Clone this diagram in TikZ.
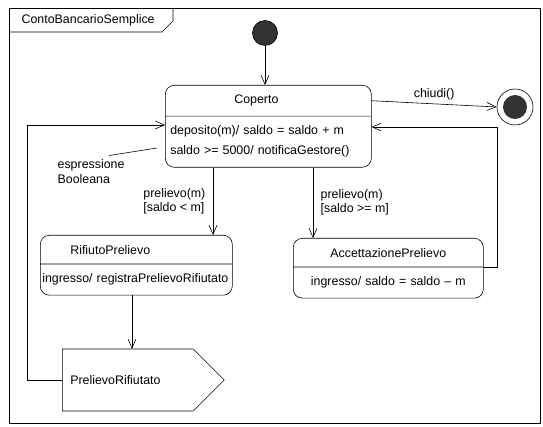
\documentclass[tikz,border=0pt]{standalone}
\usepackage{fontspec}
\setmainfont{Liberation Sans}
\usetikzlibrary{shapes.multipart,shapes.symbols,arrows.meta}

\definecolor{dotfill}{HTML}{333333}

\begin{document}
\begin{tikzpicture}[x=1pt, y=-1pt, line width=0.6pt,
    font=\fontsize{12.4}{14}\selectfont,
    state/.style={rectangle split, rectangle split parts=2, draw,
      rounded corners=9pt, align=left, inner xsep=5pt, inner ysep=9.5pt,
      font=\fontsize{12.4}{20}\selectfont},
    guard/.style={align=left, font=\fontsize{12.4}{14}\selectfont},
    >={Straight Barb[length=9pt,width=8pt]}]
    \useasboundingbox (0,0) rectangle (543,427);
    % frame
    \draw (9,8) rectangle (540,423);
    \draw (9,32) -- (162,32) -- (173,21) -- (173,8);
    \node[anchor=west] (title) at (18,20) {ContoBancarioSemplice};
    % states
    \node[circle, draw, fill=dotfill, minimum size=25pt, inner sep=0pt] (init) at (265,33) {};
    \node[state, text width=196pt, anchor=north west] (cop) at (165,85)
      {\hspace*{64pt}Coperto \nodepart{two} deposito(m)/ saldo = saldo + m\\ saldo >= 5000/ notificaGestore()};
    \node[state, text width=188pt, inner xsep=2pt, anchor=north west] (rif) at (40,235)
      {\hspace*{28pt}RifiutoPrelievo \nodepart{two}\mbox{ingresso/ registraPrelievoRifiutato}};
    \node[state, text width=180pt, align=center, anchor=north west] (acc) at (293,238)
      {AccettazionePrelievo \nodepart{two} ingresso/ saldo = saldo -- m};
    \node[signal, signal to=east, draw, text width=115pt, align=left, inner xsep=8pt,
      minimum height=62pt, anchor=west] (pr) at (62,380) {PrelievoRifiutato};
    \node[circle, draw, minimum size=36pt, inner sep=0pt] (fin) at (515,107) {};
    \node[circle, fill=dotfill, minimum size=24pt, inner sep=0pt] (finin) at (fin) {};
    % note
    \node[guard, anchor=north west, font=\fontsize{12.4}{15}\selectfont] (note) at (54,155.5) {espressione\\Booleana};
    \coordinate (notetip) at (157,148);
    \draw ([xshift=-19pt]note.north east) -- (notetip);
    % transitions
    \draw[->] (init.south) -- (init.south |- cop.north);
    \draw[->] (cop.text east) -- (fin.west) node[midway, above] {chiudi()};
    \draw[->] ([xshift=48pt]cop.south west) coordinate (c1) -- (c1 |- rif.north)
      node[guard, midway, left, xshift=-4pt] {prelievo(m)\\{[saldo < m]}};
    \draw[->] ([xshift=148pt]cop.south west) coordinate (c2) -- (c2 |- acc.north)
      node[guard, midway, right, xshift=4pt] {prelievo(m)\\{[saldo >= m]}};
    \draw[->] ([xshift=92pt]rif.south west) coordinate (c3) -- (c3 |- pr.north);
    \coordinate (backr) at (497,127);
    \draw[->] (acc.text split east) -| (backr) -- (backr -| cop.east);
    \coordinate (backl) at (27,125);
    \draw[->] (pr.west) -| (backl) -- (backl -| cop.west);
\end{tikzpicture}
\end{document}
